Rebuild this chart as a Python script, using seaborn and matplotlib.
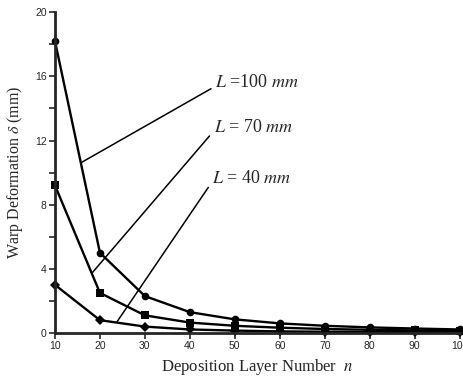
import numpy as np
import pandas as pd
import matplotlib
matplotlib.use("Agg")
import matplotlib.pyplot as plt
import seaborn as sns

layers = [10, 20, 30, 40, 50, 60, 70, 80, 90, 100]
warp_L100 = [18.2, 5.0, 2.3, 1.3, 0.85, 0.6, 0.45, 0.35, 0.28, 0.22]
warp_L70 = [9.2, 2.5, 1.1, 0.65, 0.45, 0.33, 0.25, 0.2, 0.16, 0.13]
warp_L40 = [3.0, 0.8, 0.4, 0.22, 0.15, 0.1, 0.08, 0.06, 0.05, 0.04]
series_names = ["L=100", "L=70", "L=40"]
label_texts = [r"$L$ =100 $mm$", r"$L$ = 70 $mm$", r"$L$ = 40 $mm$"]
x_ticks = [10, 20, 30, 40, 50, 60, 70, 80, 90, 100]
y_ticks = [0, 4, 8, 12, 16, 20]

df = pd.DataFrame({
    "n": layers * 3,
    "warp": warp_L100 + warp_L70 + warp_L40,
    "L": [series_names[0]] * 10 + [series_names[1]] * 10 + [series_names[2]] * 10,
})

sns.set_style("ticks")
plt.rcParams["mathtext.fontset"] = "stix"

fig = plt.figure(figsize=(4.64, 3.77), dpi=100)
ax = fig.add_axes([0.1185, 0.1167, 0.872, 0.851])

sns.lineplot(data=df, x="n", y="warp", hue="L", style="L",
             palette=["black"] * 3, markers=["o", "s", "D"], dashes=False,
             markersize=5.5, markeredgewidth=0, linewidth=1.7, legend=False, ax=ax,
             clip_on=False)

ax.set_xlim(10, 100)
ax.set_ylim(0, 20)
ax.set_xticks(x_ticks)
ax.set_yticks(y_ticks)
ax.set_yticks([2, 6, 10, 14, 18], minor=True)
ax.set_xticklabels([str(v) for v in x_ticks], fontsize=7.5, family="Liberation Sans")
ax.set_yticklabels([str(v) for v in y_ticks], fontsize=7.5, family="Liberation Sans")
ax.tick_params(axis="both", which="major", length=4, width=1.2, direction="out", pad=2)
ax.tick_params(axis="y", which="minor", length=4, width=1.2, direction="out")
for s in ["top", "right"]:
    ax.spines[s].set_visible(False)
for s in ["left", "bottom"]:
    ax.spines[s].set_linewidth(2)

ax.set_xlabel(r"Deposition Layer Number  $n$", fontsize=12, family="Liberation Serif", labelpad=4)
ax.set_ylabel(r"Warp Deformation $\delta$ (mm)", fontsize=11.5, family="Liberation Serif", labelpad=7)

anchors = [(16.0, 10.65), (18.3, 3.76), (23.8, 0.7)]
text_pos = [(45.7, 15.6), (45.3, 12.8), (45.0, 9.66)]
for txt, xy, xyt in zip(label_texts, anchors, text_pos):
    ax.annotate(txt, xy=xy, xytext=xyt, fontsize=13, family="Liberation Serif",
                ha="left", va="center",
                arrowprops=dict(arrowstyle="-", color="black", lw=1.1,
                                relpos=(0, 0.3), shrinkA=1, shrinkB=0))

fig.savefig("out.png", dpi=100)
